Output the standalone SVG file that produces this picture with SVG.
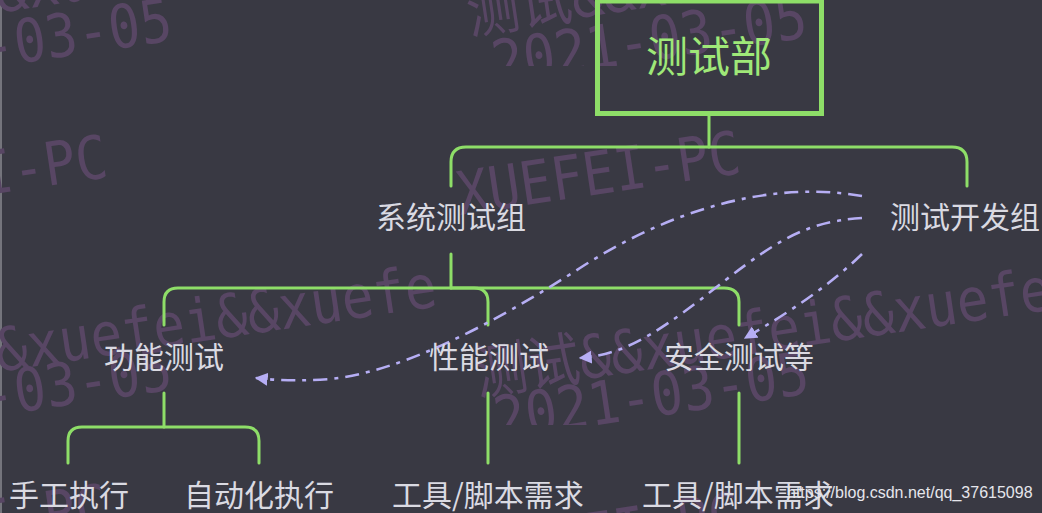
<svg xmlns="http://www.w3.org/2000/svg" width="1042" height="513" viewBox="0 0 1042 513">
  <defs>
    <style>
      .wm { font-family: "DejaVu Sans Mono", "Noto Sans CJK SC", monospace; font-size: 60px; fill: #584664; }
      .lbl { font-family: "Noto Sans CJK SC", "Noto Sans", sans-serif; font-size: 30px; fill: #dadae2; text-anchor: middle; }
      .root { font-family: "Noto Sans CJK SC", "Noto Sans", sans-serif; font-size: 42px; fill: #9fe878; text-anchor: middle; }
      .tree { fill: none; stroke: #8ede68; stroke-width: 3; stroke-linecap: round; }
      .dep { fill: none; stroke: #b6aef4; stroke-width: 2.6; stroke-dasharray: 14 7 4 7; }
      .url { font-family: "Liberation Sans", Arial, sans-serif; font-size: 16px; fill: #e6e6ec; }
    </style>
    <marker id="arr" viewBox="0 0 10 10" refX="9" refY="5" markerWidth="5" markerHeight="5" orient="auto" markerUnits="strokeWidth">
      <path d="M0,0 L10,5 L0,10 z" fill="#b6aef4"/>
    </marker>
    <clipPath id="bandTop"><rect x="-300" y="-400" width="1700" height="466"/></clipPath>
    <clipPath id="bandMid"><rect x="-300" y="66" width="1700" height="359"/></clipPath>
    <clipPath id="bandBot"><rect x="-300" y="425" width="1700" height="400"/></clipPath>
  </defs>

  <rect x="0" y="0" width="1042" height="513" fill="#393943"/>
  <rect x="0" y="0" width="2" height="513" fill="#74747c"/>

  <g id="watermark">
    <g clip-path="url(#bandTop)">
      <text class="wm" transform="translate(-137,33) rotate(-8.5) scale(0.88,1)">测试&amp;&amp;xuefei&amp;&amp;xuefe</text>
      <text class="wm" transform="translate(-140,87) rotate(-8.5) scale(0.88,1)">2021-03-05</text>
      <text class="wm" transform="translate(470,34) rotate(-8.5) scale(0.88,1)">测试&amp;&amp;xuefei&amp;&amp;xuefe</text>
      <text class="wm" transform="translate(495,84) rotate(-8.5) scale(0.88,1)">2021-03-05</text>
    </g>
    <g clip-path="url(#bandMid)">
      <text class="wm" transform="translate(-173,219) rotate(-8.5) scale(0.88,1)">XUEFEI-PC</text>
      <text class="wm" transform="translate(460,215) rotate(-8.5) scale(0.88,1)">XUEFEI-PC</text>
      <text class="wm" transform="translate(-137,392) rotate(-8.5) scale(0.88,1)">测试&amp;&amp;xuefei&amp;&amp;xuefe</text>
      <text class="wm" transform="translate(-140,436) rotate(-8.5) scale(0.88,1)">2021-03-05</text>
      <text class="wm" transform="translate(478,395) rotate(-8.5) scale(0.88,1)">测试&amp;&amp;xuefei&amp;&amp;xuefe</text>
      <text class="wm" transform="translate(497,440) rotate(-8.5) scale(0.88,1)">2021-03-05</text>
    </g>
    <g clip-path="url(#bandBot)">
      <text class="wm" transform="translate(-173,568) rotate(-8.5) scale(0.88,1)">XUEFEI-PC</text>
      <text class="wm" transform="translate(460,576) rotate(-8.5) scale(0.88,1)">XUEFEI-PC</text>
    </g>
  </g>

  <g id="connectors">
    <path class="tree" d="M709,116 V147"/>
    <path class="tree" d="M451,186 V162 Q451,147 466,147 H952 Q967,147 967,162 V186"/>
    <path class="tree" d="M451,254 V288"/>
    <path class="tree" d="M164,325 V302 Q164,288 178,288 H474 Q488,288 488,302 V325"/>
    <path class="tree" d="M451,288 H724 Q739,288 739,302 V325"/>
    <path class="tree" d="M164,393 V427"/>
    <path class="tree" d="M68,463 V441 Q68,427 82,427 H245 Q259,427 259,441 V463"/>
    <path class="tree" d="M488,393 V463"/>
    <path class="tree" d="M739,393 V463"/>
    <path class="dep" marker-end="url(#arr)" d="M862,196 C770,180 670,210 580,268 C490,326 400,372 330,379 Q290,382 256,378"/>
    <path class="dep" marker-end="url(#arr)" d="M862,218 C800,222 770,245 700,300 C650,338 620,355 580,358"/>
    <path class="dep" marker-end="url(#arr)" d="M862,254 C830,285 790,312 745,338"/>
  </g>

  <g id="node-root">
    <rect x="597.5" y="1" width="224" height="112.5" fill="none" stroke="#8ede68" stroke-width="5"/>
    <text class="root" x="709" y="72">测试部</text>
  </g>
  <g id="node-systest"><text class="lbl" x="451" y="228">系统测试组</text></g>
  <g id="node-devtest"><text class="lbl" x="965" y="228">测试开发组</text></g>
  <g id="node-func"><text class="lbl" x="164" y="368">功能测试</text></g>
  <g id="node-perf"><text class="lbl" x="489" y="368">性能测试</text></g>
  <g id="node-sec"><text class="lbl" x="739" y="368">安全测试等</text></g>
  <g id="node-manual"><text class="lbl" x="69" y="506">手工执行</text></g>
  <g id="node-auto"><text class="lbl" x="259" y="506">自动化执行</text></g>
  <g id="node-perf-tool"><text class="lbl" x="488" y="506">工具/脚本需求</text></g>
  <g id="node-sec-tool"><text class="lbl" x="738" y="506">工具/脚本需求</text></g>

  <text class="url" x="787" y="498">https://blog.csdn.net/qq_37615098</text>
</svg>
